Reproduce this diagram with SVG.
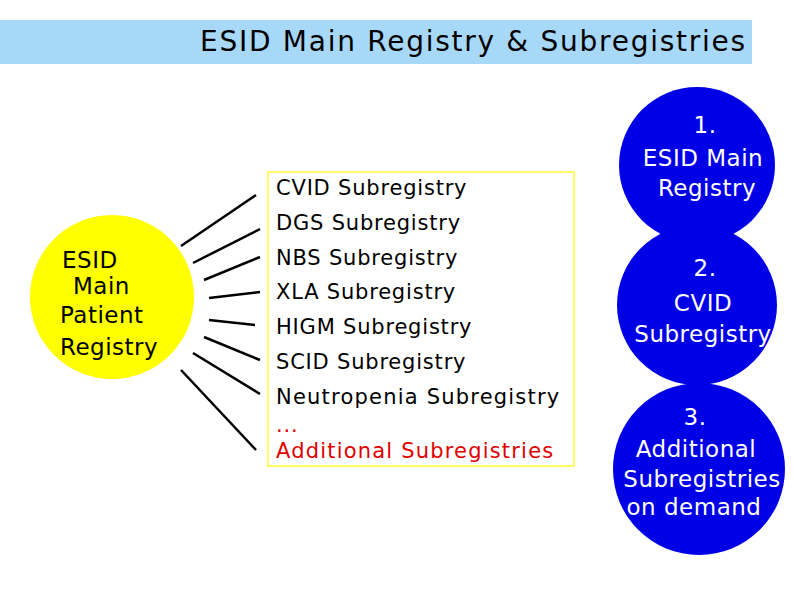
<svg xmlns="http://www.w3.org/2000/svg" width="794" height="595" viewBox="0 0 794 595">
<style>
text{font-family:"DejaVu Sans","Liberation Sans",sans-serif;}
.l{stroke:#000;stroke-width:2.5}
.t{font-size:21px;fill:#000;letter-spacing:0.8px}
.m{font-size:23px;fill:#000;letter-spacing:0.5px}
.w{font-size:23px;fill:#fff;text-anchor:middle;letter-spacing:0.5px}
.b{fill:#0000e6}
</style>
<rect width="794" height="595" fill="#fff"/>
<rect x="0" y="20" width="752" height="44" fill="#a8d8f8"/>
<text x="200" y="51" font-size="28" textLength="545" lengthAdjust="spacing">ESID Main Registry &amp; Subregistries</text>
<g id="main"><circle cx="112" cy="297" r="82" fill="#ffff00"/>
<text x="62" y="268" class="m">ESID</text>
<text x="73" y="294" class="m">Main</text>
<text x="60" y="323" class="m">Patient</text>
<text x="60" y="355" class="m">Registry</text></g>
<g id="connectors">
<line class="l" x1="181" y1="246" x2="256" y2="195"/>
<line class="l" x1="193" y1="263" x2="260" y2="229"/>
<line class="l" x1="204" y1="280" x2="260" y2="257"/>
<line class="l" x1="209" y1="298" x2="260" y2="292"/>
<line class="l" x1="209" y1="320" x2="255" y2="325"/>
<line class="l" x1="204" y1="337" x2="260" y2="360"/>
<line class="l" x1="193" y1="353" x2="260" y2="394"/>
<line class="l" x1="181" y1="370" x2="256" y2="450"/>
</g>
<g id="list"><rect x="268" y="172" width="306" height="294" fill="#fff" stroke="#ffff66" stroke-width="2"/>
<text class="t" x="276" y="195">CVID Subregistry</text>
<text class="t" x="276" y="230">DGS Subregistry</text>
<text class="t" x="276" y="265">NBS Subregistry</text>
<text class="t" x="276" y="299">XLA Subregistry</text>
<text class="t" x="276" y="334">HIGM Subregistry</text>
<text class="t" x="276" y="369">SCID Subregistry</text>
<text class="t" x="276" y="404" textLength="284" lengthAdjust="spacing">Neutropenia Subregistry</text>
<text class="t" x="276" y="432" style="fill:#e00000">...</text>
<text class="t" x="276" y="458" style="fill:#e00000" textLength="278" lengthAdjust="spacing">Additional Subregistries</text></g>
<g id="c1"><circle class="b" cx="697" cy="165" r="78"/>
<text class="w" x="705" y="133">1.</text>
<text class="w" x="703" y="166">ESID Main</text>
<text class="w" x="707" y="196">Registry</text></g>
<g id="c2"><circle class="b" cx="697" cy="305" r="80"/>
<text class="w" x="705" y="276">2.</text>
<text class="w" x="703" y="311">CVID</text>
<text class="w" x="703" y="342">Subregistry</text></g>
<g id="c3"><circle class="b" cx="699" cy="469" r="86"/>
<text class="w" x="695" y="425">3.</text>
<text class="w" x="696" y="457">Additional</text>
<text class="w" x="702" y="487">Subregistries</text>
<text class="w" x="694" y="515">on demand</text></g>
</svg>
